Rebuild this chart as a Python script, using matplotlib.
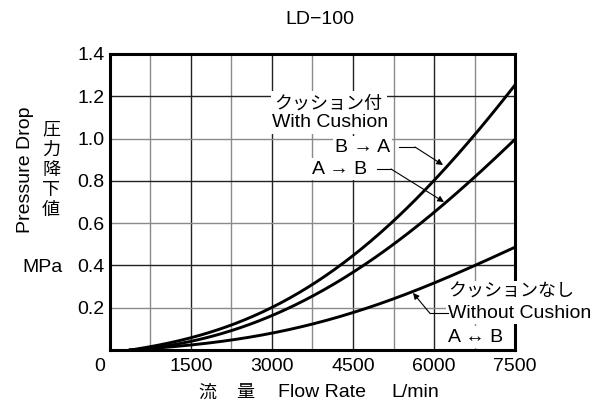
import matplotlib.pyplot as plt
import numpy as np

FONT = ["Liberation Sans", "Noto Sans CJK JP", "DejaVu Sans"]
plt.rcParams["font.family"] = FONT

# flow rate (L/min) and pressure drop (MPa)
flow = [375, 1500, 2250, 3000, 3750, 4500, 5250, 6000, 6750, 7500]
b_to_a = [0.0, 0.057, 0.118, 0.205, 0.307, 0.449, 0.607, 0.804, 1.017, 1.253]
a_to_b = [0.0, 0.040, 0.095, 0.158, 0.260, 0.363, 0.505, 0.646, 0.820, 0.996]
no_cushion = [0.0, 0.024, 0.047, 0.079, 0.126, 0.173, 0.245, 0.315, 0.400, 0.486]

x_ticks = [1500, 3000, 4500, 6000, 7500]
y_ticks = [0.2, 0.4, 0.6, 0.8, 1.0, 1.2, 1.4]


def smooth(x, y):
    xs = np.linspace(x[0], x[-1], 300)
    coef = np.polyfit(x, y, 4)
    return xs, np.clip(np.polyval(coef, xs), 0, None)


fig = plt.figure(figsize=(6.02, 4.05), dpi=100)
ax = fig.add_axes([0.1827, 0.1358, 0.6728, 0.7309])
ax.set_xlim(0, 7500)
ax.set_ylim(0, 1.4)

# grid: major lines dark, half-steps grey
for i, v in enumerate(np.arange(750, 7500, 750)):
    ax.axvline(v, color="#222222" if i % 2 else "#8a8a8a", lw=1.0, zorder=1)
for i, v in enumerate(np.arange(0.2, 1.4, 0.2)):
    ax.axhline(v, color="#222222" if i % 2 else "#8a8a8a", lw=1.0, zorder=1)

for ys in (b_to_a, a_to_b, no_cushion):
    xs, yy = smooth(flow, ys)
    ax.plot(xs, yy, color="black", lw=2.1, zorder=3)

for s in ax.spines.values():
    s.set_linewidth(2.2)

ax.set_xticks(x_ticks)
ax.set_xticklabels([str(t) for t in x_ticks])
ax.set_yticks(y_ticks)
ax.set_yticklabels([f"{t:.1f}" for t in y_ticks])
ax.tick_params(axis="x", length=0, labelsize=14, pad=6)
ax.tick_params(axis="y", length=0, labelsize=14, pad=4)
ax.text(-185, -0.036, "0", ha="center", va="top", fontsize=14, clip_on=False)

box = dict(facecolor="white", edgecolor="none", pad=1.5)

ax.text(4050, 1.165, "クッション付", ha="center", va="center", fontsize=13,
        bbox=dict(facecolor="white", edgecolor="none", pad=3), zorder=4)
ax.text(4070, 1.075, "With Cushion", ha="center", va="center", fontsize=14,
        bbox=dict(facecolor="white", edgecolor="none", pad=2), zorder=4)
ax.text(5185, 0.96, "B → A", ha="right", va="center", fontsize=14, bbox=box, zorder=4)
ax.text(4759, 0.856, "A → B", ha="right", va="center", fontsize=14, bbox=box, zorder=4)

ax.text(6259, 0.274, "クッションなし", ha="left", va="center", fontsize=13,
        bbox=box, zorder=4, clip_on=False)
ax.text(6259, 0.173, "Without Cushion", ha="left", va="center", fontsize=14,
        bbox=box, zorder=4, clip_on=False)
ax.text(6259, 0.061, "A ↔ B", ha="left", va="center", fontsize=14, bbox=box, zorder=4)

# leader lines
arrow = dict(arrowstyle="-|>", color="black", lw=0.8, mutation_scale=9, shrinkA=0, shrinkB=0)
ax.plot([5352, 5648], [0.960, 0.960], color="black", lw=0.8, zorder=5)
ax.annotate("", xy=(6167, 0.875), xytext=(5648, 0.960), arrowprops=arrow, zorder=5)
ax.plot([4944, 5204], [0.856, 0.856], color="black", lw=0.8, zorder=5)
ax.annotate("", xy=(6185, 0.700), xytext=(5204, 0.856), arrowprops=arrow, zorder=5)
ax.plot([5926, 6259], [0.173, 0.173], color="black", lw=0.8, zorder=5)
ax.annotate("", xy=(5611, 0.270), xytext=(5926, 0.173), arrowprops=arrow, zorder=5)

fig.text(0.532, 0.953, "LD−100", ha="center", va="center", fontsize=14)
fig.text(0.344, 0.03, "流", ha="center", va="center", fontsize=13)
fig.text(0.407, 0.03, "量", ha="center", va="center", fontsize=13)
fig.text(0.535, 0.03, "Flow Rate", ha="center", va="center", fontsize=14)
fig.text(0.689, 0.03, "L/min", ha="center", va="center", fontsize=14)

fig.text(0.042, 0.580, "Pressure Drop", rotation=90, ha="center", va="center", fontsize=14)
fig.text(0.085, 0.58, "圧\n力\n降\n下\n値", ha="center", va="center", fontsize=13,
         linespacing=1.25)
fig.text(0.104, 0.340, "MPa", ha="right", va="center", fontsize=14)

fig.savefig("out.png", dpi=100)
